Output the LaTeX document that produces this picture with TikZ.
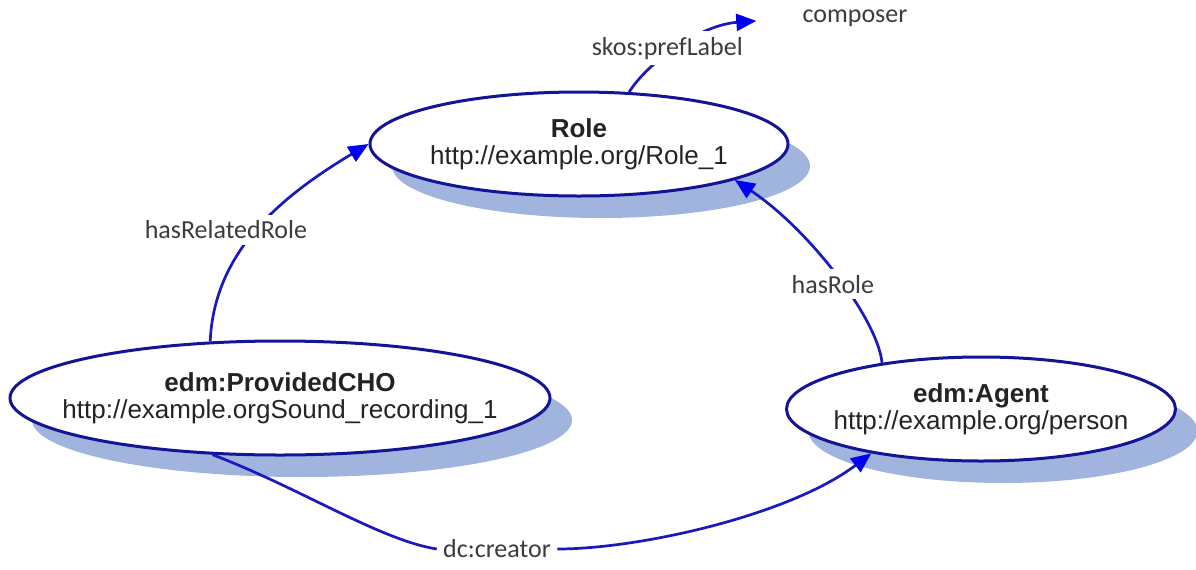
\documentclass[tikz,border=0pt]{standalone}
\usepackage{fontspec}
\setmainfont{Liberation Sans}
\newfontfamily\labelfont{Carlito}
\usetikzlibrary{arrows.meta,shapes.geometric,shadows}
\definecolor{rimblue}{RGB}{20,20,150}
\definecolor{edgeblue}{RGB}{25,25,190}
\definecolor{tipblue}{RGB}{0,0,245}
\definecolor{shadowblue}{RGB}{160,180,222}
\definecolor{textgray}{RGB}{35,35,35}
\definecolor{labelgray}{RGB}{60,60,60}

\begin{document}
\begin{tikzpicture}[x=0.5pt, y=-0.5pt,
    resource/.style={ellipse, draw=rimblue, line width=1.5pt, fill=white, inner xsep=-20pt, inner ysep=0pt, align=center, text=textgray, font=\fontsize{13}{13.5}\selectfont, drop shadow={shadow xshift=11pt, shadow yshift=-11pt, fill=shadowblue, opacity=1}},
    property/.style={font=\labelfont\fontsize{13}{15}\selectfont, text=labelgray, fill=white, inner sep=3pt},
    literal/.style={font=\labelfont\fontsize{13}{15}\selectfont, text=labelgray, inner sep=3pt},
    edgeline/.style={draw=edgeblue, line width=1.35pt},
    relation/.style={edgeline, -{Triangle[length=10pt, width=8.5pt, color=tipblue]}},
]
    \useasboundingbox (0,0) rectangle (1196,569);

    \node[resource, minimum width=209pt, minimum height=52pt] (role) at (579,144) {\textbf{Role}\\http://example.org/Role\_1};
    \node[resource, minimum width=270pt, minimum height=57pt] (cho) at (280,398) {\textbf{edm:ProvidedCHO}\\http://example.orgSound\_recording\_1};
    \node[resource, minimum width=194.5pt, minimum height=52pt] (agent) at (981,409) {\textbf{edm:Agent}\\http://example.org/person};

    \node[literal] (composer) at (855,18) {composer};
    \node[property] (creator) at (497,549) {dc:creator};

    \draw[relation] (cho.141) .. controls (214,255) and (275,200) .. (role.west)
        node[property, pos=.47, xshift=-12.5pt, yshift=3.5pt] {hasRelatedRole};
    \draw[relation, shorten >=20pt] (role.46) .. controls (648,62) and (700,25) .. (composer.west)
        node[property, pos=.42, xshift=-2pt, yshift=2.5pt] {skos:prefLabel};
    \draw[relation] (agent.155) .. controls (878,320) and (810,230) .. (role.-13)
        node[property, pos=.45, xshift=-5pt] {hasRole};
    \draw[edgeline] (cho.220) .. controls (300,488) and (380,540) .. (creator.west);
    \draw[relation] (creator.east) .. controls (640,549) and (790,515) .. (agent.202);
\end{tikzpicture}
\end{document}
